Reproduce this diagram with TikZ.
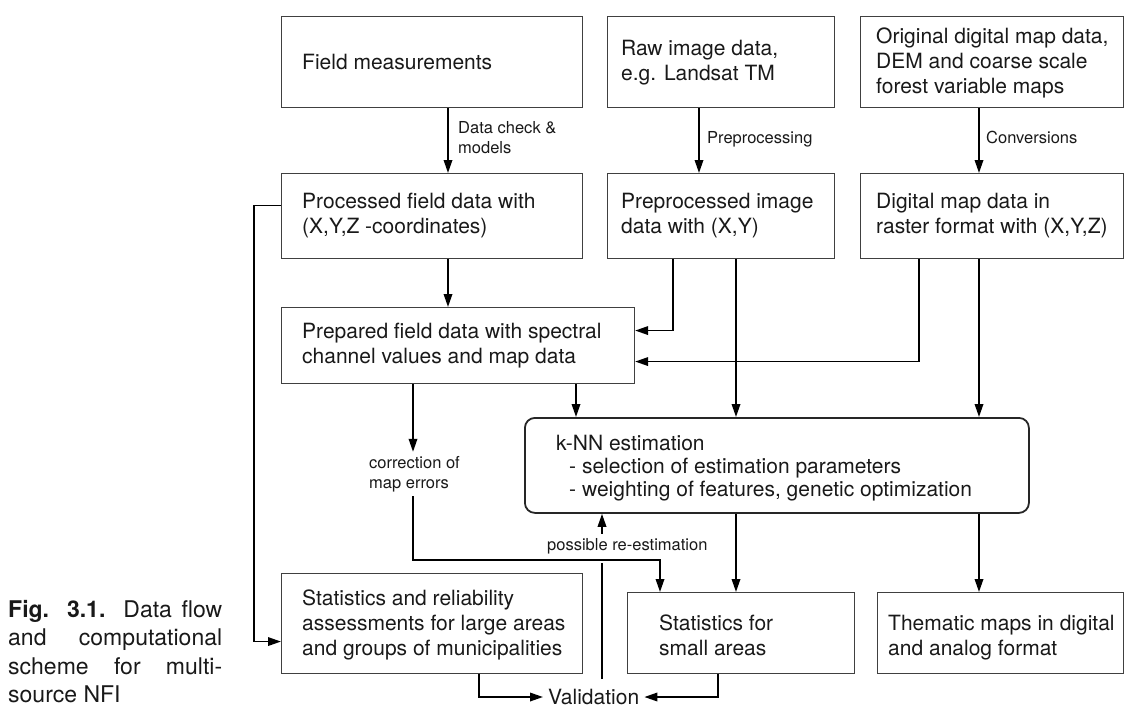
\documentclass[tikz,border=0pt]{standalone}
\usepackage{fontspec}
\setmainfont{TeX Gyre Heros}
\usetikzlibrary{arrows.meta}
\newcommand\BxFont{\fontsize{21}{25}\selectfont}
\newcommand\KnFont{\fontsize{21}{23}\selectfont}
\newcommand\LbFont{\fontsize{16.5}{20}\selectfont}
\newcommand\CpFont{\fontsize{23}{28.5}\selectfont}
\begin{document}
\begin{tikzpicture}[x=1pt,y=-1pt,
  box/.style={draw=black!75, line width=1.1pt, rectangle, inner sep=0pt, anchor=north west},
  knnbox/.style={draw=black!85, line width=1.8pt, rectangle, rounded corners=10pt, inner sep=0pt, anchor=north west},
  txt/.style={anchor=west, align=left, inner sep=0pt, text=black!90, font=\BxFont},
  lbl/.style={anchor=west, align=left, inner sep=0pt, text=black!90, font=\LbFont},
  arr/.style={line width=1.8pt, -{Triangle[length=13pt,width=8.5pt]}},
  conn/.style={line width=1.8pt}]
\useasboundingbox (0,0) rectangle (1124,707);

% boxes
\node[box, minimum width=301pt, minimum height=91pt] (b1) at (281,16) {};
\node[box, minimum width=301pt, minimum height=85pt] (b2) at (281,173) {};
\node[box, minimum width=353pt, minimum height=76pt] (b3) at (281,307) {};
\node[box, minimum width=227pt, minimum height=91pt] (r1) at (607,16) {};
\node[box, minimum width=227pt, minimum height=85pt] (r2) at (607,173) {};
\node[box, minimum width=263pt, minimum height=91pt] (o1) at (860,16) {};
\node[box, minimum width=263pt, minimum height=85pt] (o2) at (860,173) {};
\node[knnbox, minimum width=504pt, minimum height=95pt] (knn) at (524,417) {};
\node[box, minimum width=301pt, minimum height=100pt] (s1) at (281,573) {};
\node[box, minimum width=227pt, minimum height=81pt] (s2) at (627,592) {};
\node[box, minimum width=246pt, minimum height=81pt] (s3) at (877,592) {};

% box texts
\node[txt] (tb1) at (302,64) {\strut Field measurements};
\node[txt] (tb2) at (302,215.5) {\strut Processed field data with\\\strut (X,Y,Z -coordinates)};
\node[txt] (tb3) at (302,345.5) {\strut Prepared field data with spectral\\\strut channel values and map data};
\node[txt] (tr1) at (621,62.5) {\strut Raw image data,\\\strut e.g. Landsat TM};
\node[txt] (tr2) at (621,215.5) {\strut Preprocessed image\\\strut data with (X,Y)};
\node[txt] (to1) at (876,63) {\strut Original digital map data,\\\strut DEM and coarse scale\\\strut forest variable maps};
\node[txt] (to2) at (876,215.5) {\strut Digital map data in\\\strut raster format with (X,Y,Z)};
\node[txt, font=\KnFont] (tknn) at (556,468.4) {\strut k-NN estimation\\\hspace*{13pt}\strut - selection of estimation parameters\\\hspace*{13pt}\strut - weighting of features, genetic optimization};
\node[txt] (ts1) at (302,625) {\strut Statistics and reliability\\\strut assessments for large areas\\\strut and groups of municipalities};
\node[txt] (ts2) at (659,637.5) {\strut Statistics for\\\strut small areas};
\node[txt] (ts3) at (888,637.5) {\strut Thematic maps in digital\\\strut and analog format};

% labels
\node[lbl] (ldc) at (458,139) {\strut Data check \&\\\strut models};
\node[lbl] (lpp) at (707,139) {\strut Preprocessing};
\node[lbl] (lcv) at (986,139) {\strut Conversions};
\node[lbl, inner ysep=2pt] (corr) at (369,474) {\strut correction of\\\strut map errors};
\node[lbl, inner ysep=2pt] (reest) at (547,546) {\strut possible re-estimation};
\node[anchor=base west, inner xsep=5pt, inner ysep=0pt, text=black!90, font=\BxFont] (valid) at (543,704.5) {Validation};

% caption
\node[anchor=north west, text width=214pt, align=justify, inner sep=0pt, text=black!90, font=\CpFont] (cap) at (8,597)
  {\strut\textbf{Fig. 3.1.} Data flow\linebreak and computational\linebreak scheme for multi-\linebreak source NFI};

% column coordinates
\coordinate (xA) at (448,0);
\coordinate (xB) at (699,0);
\coordinate (xC) at (979,0);
\coordinate (xD) at (673,0);
\coordinate (xE) at (736,0);
\coordinate (xF) at (919,0);
\coordinate (xG) at (576,0);
\coordinate (xH) at (413,0);
\coordinate (xI) at (660,0);
\coordinate (xJ) at (602,0);
\coordinate (xL) at (479,0);
\coordinate (xM) at (718,0);
\coordinate (yR) at (0,560);
\coordinate (vt) at (602,679);
\coordinate (vb) at (602,563);

% connectors
\draw[arr] (b1.south -| xA) -- (b2.north -| xA);
\draw[arr] (b2.south -| xA) -- (b3.north -| xA);
\draw[arr] (r1.south -| xB) -- (r2.north -| xB);
\draw[arr] (o1.south -| xC) -- (o2.north -| xC);
\draw[arr] (r2.south -| xD) |- ([yshift=15pt]b3.east);
\draw[arr] (o2.south -| xF) |- ([yshift=-16pt]b3.east);
\draw[arr] (r2.south -| xE) -- (knn.north -| xE);
\draw[arr] (o2.south -| xC) -- (knn.north -| xC);
\draw[arr] (b3.south -| xG) -- (knn.north -| xG);
\draw[arr] (b3.south -| xH) -- (corr.north -| xH);
\draw[arr] (corr.south -| xH) -- (xH |- yR) -| (s2.north -| xI);
\draw[arr] (knn.south -| xE) -- (s2.north -| xE);
\draw[arr] (knn.south -| xC) -- (s3.north -| xC);
\draw[arr] (reest.north -| xJ) -- (knn.south -| xJ);
\draw[conn] (vt) -- (vb);
\draw[arr] ([yshift=10.5pt]b2.west) -| ([xshift=-27pt,yshift=-18pt]s1.west) -- ([yshift=-18pt]s1.west);
\draw[arr] (s1.south -| xL) |- (valid.west);
\draw[arr] (s2.south -| xM) |- (valid.east);
\end{tikzpicture}
\end{document}
